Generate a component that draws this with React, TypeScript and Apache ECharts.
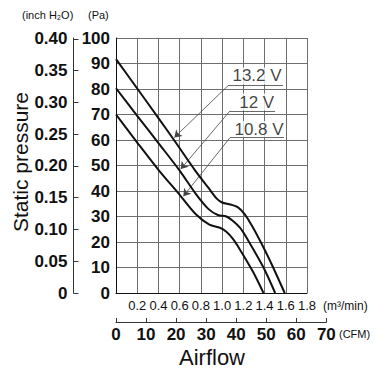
import React, { useEffect, useRef } from "react";
import * as echarts from "echarts";

// Fan P-Q curves at three supply voltages (airflow in m³/min, static pressure in Pa)
const flowV132 = [0, 0.2, 0.4, 0.55, 0.75, 0.87, 0.95, 1.0, 1.08, 1.15, 1.21, 1.28, 1.37, 1.47, 1.59];
const pressV132 = [91.7, 80.2, 68.6, 59.8, 47.8, 41.3, 37, 35.5, 34.7, 33.6, 31, 26.5, 19.5, 11, 0];

const flowV12 = [0, 0.2, 0.4, 0.6, 0.75, 0.87, 0.96, 1.04, 1.1, 1.17, 1.24, 1.39, 1.5];
const pressV12 = [80.3, 69.5, 58.8, 48, 39, 33, 30.6, 30, 28.3, 25.5, 21, 10, 0];

const flowV108 = [0, 0.2, 0.4, 0.6, 0.75, 0.88, 0.98, 1.04, 1.1, 1.17, 1.29, 1.39];
const pressV108 = [70, 59, 48.3, 38.5, 31, 26.8, 25.6, 24, 21.3, 16.9, 8.4, 0];

// Callout labels: text centre, underline span and the flow where each arrow meets its curve
const voltLabels = ["13.2 V", "12 V", "10.8 V"];
const labelFlow = [1.329, 1.326, 1.348];
const labelPress = [85.1, 74.9, 64.1];
const underlineFrom = [1.056, 1.074, 1.074];
const underlineTo = [1.574, 1.499, 1.583];
const underlinePress = [81.3, 71.4, 60.9];
const arrowFlow = [0.55, 0.61, 0.635];

// Secondary scales
const inchTicks = [0, 0.05, 0.1, 0.15, 0.2, 0.25, 0.3, 0.35, 0.4];
const PA_PER_INCH_H2O = 249.089;
const CFM_PER_M3_MIN = 35.3147;
const CFM_MAX = 70;
const M3_MAX = 1.8;
const PA_MAX = 100;

const W = 379;
const H = 369;
const PLOT_LEFT = 116;
const PLOT_TOP = 38;
const PLOT_W = 191;
const PLOT_H = 255;
const CFM_AXIS_Y = 322;
const INCH_AXIS_X = 73.5;

const NARROW = "'Liberation Sans Narrow', 'Arial Narrow', 'Liberation Sans', sans-serif";
const SANS = "'Liberation Sans', Arial, sans-serif";

const curves = [
  { name: voltLabels[0], xs: flowV132, ys: pressV132 },
  { name: voltLabels[1], xs: flowV12, ys: pressV12 },
  { name: voltLabels[2], xs: flowV108, ys: pressV108 },
];

function interp(xs: number[], ys: number[], x: number) {
  for (let i = 1; i < xs.length; i++) {
    if (x <= xs[i]) {
      const t = (x - xs[i - 1]) / (xs[i] - xs[i - 1]);
      return ys[i - 1] + t * (ys[i] - ys[i - 1]);
    }
  }
  return ys[ys.length - 1];
}

function buildOption() {
  const cfmWidth = (PLOT_W * (CFM_MAX / CFM_PER_M3_MIN)) / M3_MAX;

  const leaders = curves.map((c, i) => ({
    coords: [
      [underlineFrom[i], underlinePress[i]],
      [arrowFlow[i], interp(c.xs, c.ys, arrowFlow[i]) + 1.2],
    ],
  }));
  const underlines = curves.map((_, i) => ({
    coords: [
      [underlineFrom[i], underlinePress[i]],
      [underlineTo[i], underlinePress[i]],
    ],
  }));

  const text = (t: string, x: number, y: number, size: number, align = "left", extra: any = {}) => ({
    type: "text",
    x,
    y,
    ...extra,
    style: {
      text: t,
      fill: "#111",
      font: `${size}px ${SANS}`,
      align,
      textAlign: align,
      verticalAlign: "middle",
      textVerticalAlign: "middle",
    },
  });

  return {
    animation: false,
    backgroundColor: "#fff",
    grid: [
      { left: PLOT_LEFT, top: PLOT_TOP, width: PLOT_W, height: PLOT_H, containLabel: false },
      { left: PLOT_LEFT, top: CFM_AXIS_Y - 1, width: cfmWidth, height: 1, containLabel: false },
    ],
    xAxis: [
      {
        gridIndex: 0,
        type: "value",
        min: 0,
        max: M3_MAX,
        interval: 0.2,
        axisLine: { show: true, onZero: false, lineStyle: { color: "#111", width: 1 } },
        axisTick: { show: false },
        splitLine: { show: true, lineStyle: { color: "#6e6e6e", width: 1 } },
        axisLabel: {
          margin: 6,
          fontSize: 13,
          fontFamily: NARROW,
          color: "#111",
          showMinLabel: true,
          showMaxLabel: true,
          formatter: (v: number) => (v === 0 ? "" : v.toFixed(1)),
        },
      },
      {
        gridIndex: 1,
        type: "value",
        min: 0,
        max: CFM_MAX,
        interval: 10,
        axisLine: { show: true, onZero: false, lineStyle: { color: "#333", width: 1 } },
        axisTick: { show: true, inside: true, length: 4, lineStyle: { color: "#333" } },
        splitLine: { show: false },
        axisLabel: {
          margin: 4,
          fontSize: 17,
          fontWeight: "bold",
          fontFamily: NARROW,
          color: "#111",
          showMaxLabel: true,
        },
      },
    ],
    yAxis: [
      {
        gridIndex: 0,
        type: "value",
        min: 0,
        max: PA_MAX,
        interval: 10,
        position: "left",
        axisLine: { show: true, onZero: false, lineStyle: { color: "#111", width: 1 } },
        axisTick: { show: false },
        splitLine: { show: true, lineStyle: { color: "#6e6e6e", width: 1 } },
        axisLabel: { margin: 6, fontSize: 17, fontWeight: "bold", fontFamily: NARROW, color: "#111" },
      },
      {
        gridIndex: 0,
        type: "value",
        min: 0,
        max: PA_MAX / PA_PER_INCH_H2O,
        position: "left",
        offset: PLOT_LEFT - INCH_AXIS_X,
        axisLine: { show: true, onZero: false, lineStyle: { color: "#333", width: 1 } },
        axisTick: { show: true, inside: true, length: 5, customValues: inchTicks, lineStyle: { color: "#333" } },
        splitLine: { show: false },
        axisLabel: {
          customValues: inchTicks,
          margin: 6,
          fontSize: 17,
          fontWeight: "bold",
          fontFamily: NARROW,
          color: "#111",
          formatter: (v: number) => (v === 0 ? "0" : v.toFixed(2)),
        },
      },
      { gridIndex: 1, type: "value", show: false, min: 0, max: 1 },
    ],
    series: [
      ...curves.map((c) => ({
        type: "line",
        name: c.name,
        xAxisIndex: 0,
        yAxisIndex: 0,
        data: c.xs.map((x, i) => [x, c.ys[i]]),
        smooth: 0.3,
        symbol: "none",
        lineStyle: { color: "#111", width: 2 },
        z: 5,
      })),
      {
        type: "scatter",
        xAxisIndex: 0,
        yAxisIndex: 0,
        data: voltLabels.map((t, i) => ({ name: t, value: [labelFlow[i], labelPress[i]] })),
        symbolSize: 1,
        itemStyle: { color: "rgba(0,0,0,0)" },
        label: {
          show: true,
          position: "inside",
          formatter: "{b}",
          color: "#111",
          fontSize: 17,
          fontFamily: SANS,
          backgroundColor: "#fff",
          padding: [0, 2],
        },
        z: 3,
      },
      {
        type: "lines",
        coordinateSystem: "cartesian2d",
        xAxisIndex: 0,
        yAxisIndex: 0,
        data: underlines,
        symbol: ["none", "none"],
        lineStyle: { color: "#444", width: 0.8, opacity: 1 },
        z: 4,
      },
      {
        type: "lines",
        coordinateSystem: "cartesian2d",
        xAxisIndex: 0,
        yAxisIndex: 0,
        data: leaders,
        symbol: ["none", "arrow"],
        symbolSize: 7,
        lineStyle: { color: "#444", width: 0.8, opacity: 1 },
        itemStyle: { color: "#111" },
        z: 4,
      },
    ],
    graphic: [
      text("(inch H₂O)", 22, 15, 11),
      text("(Pa)", 88, 15, 11),
      text("(m³/min)", 323, 306, 12),
      text("(CFM)", 339, 334, 11),
      text("Airflow", 212, 357, 22, "center"),
      text("Static pressure", 20, 162, 21, "center", { rotation: Math.PI / 2 }),
    ],
  };
}

export default function App() {
  const ref = useRef<HTMLDivElement>(null);

  useEffect(() => {
    if (!ref.current) return;
    const chart = echarts.init(ref.current, null, { renderer: "svg" });
    chart.setOption(buildOption() as any);
    return () => chart.dispose();
  }, []);

  return (
    <div
      ref={ref}
      style={{ position: "absolute", left: 0, top: 0, width: W, height: H, background: "#fff" }}
    />
  );
}
